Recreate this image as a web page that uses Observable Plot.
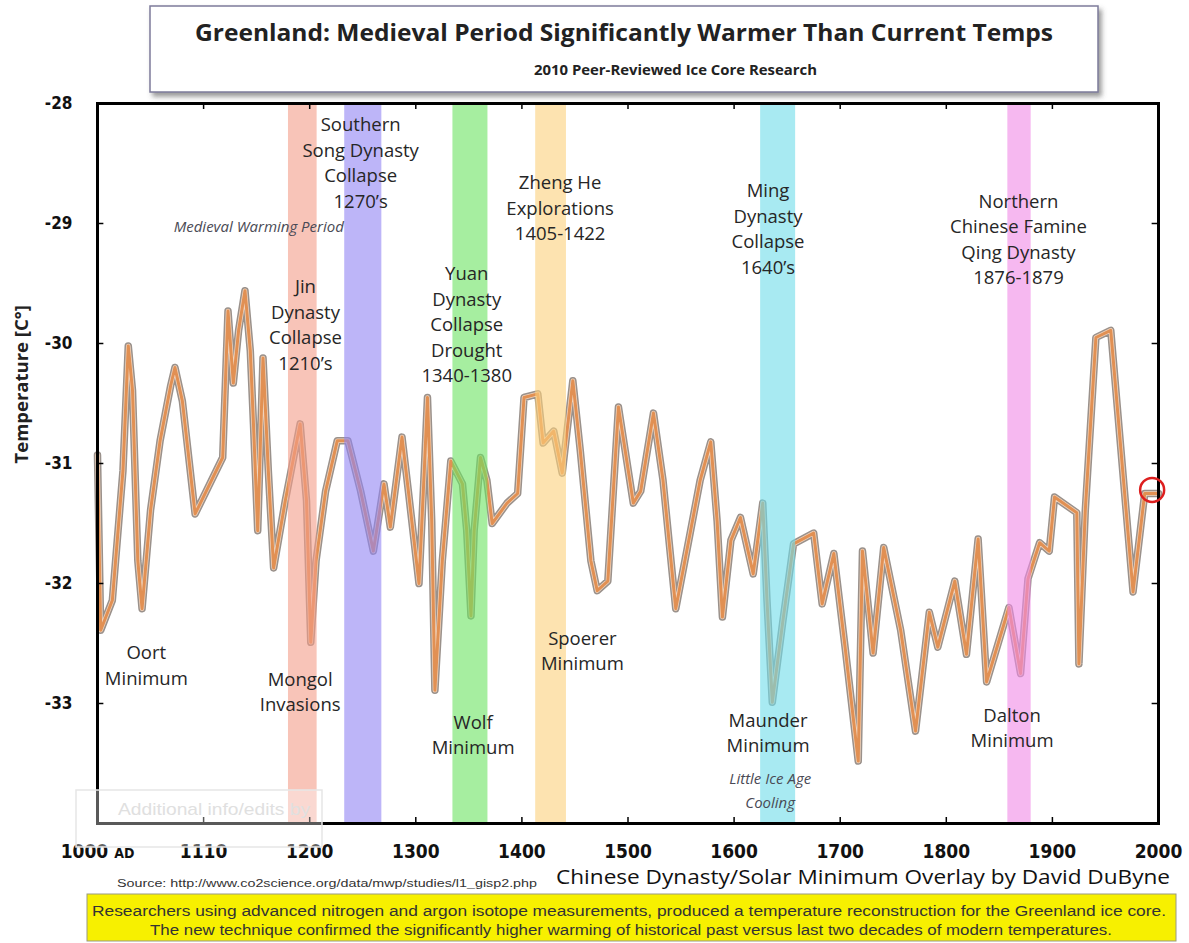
<!DOCTYPE html>
<html><head><meta charset="utf-8">
<script src="https://cdn.jsdelivr.net/npm/d3@7"></script>
<script src="https://cdn.jsdelivr.net/npm/@observablehq/plot@0.6"></script>
<style>
body{margin:0;background:#fff;}
#wrap{position:relative;width:1189px;height:943px;overflow:hidden;background:#fff;}
#wrap > svg{position:absolute;left:0;top:0;}
</style></head><body><div id="wrap"></div>
<script>
// ---- data ----
const years = [1000,1003,1014,1024,1029,1033,1038,1042,1050,1059,1069,1073,1080,1092,1118,1123,1128,1133,1139,1144,1147,1151,1156,1161,1166,1177,1191,1197,1201,1206,1215,1226,1236,1248,1260,1270,1276,1287,1293,1303,1308,1311,1315,1318,1325,1333,1344,1348,1352,1355,1361,1367,1372,1386,1396,1402,1415,1420,1430,1438,1448,1455,1465,1471,1481,1491,1505,1512,1524,1533,1545,1559,1568,1578,1584,1589,1597,1606,1618,1627,1631,1636,1646,1656,1675,1683,1694,1705,1717,1721,1731,1741,1757,1771,1784,1792,1808,1819,1830,1838,1859,1870,1877,1888,1897,1902,1923,1925,1931,1941,1955,1976,1987,2000];
const temps = [-30.93,-32.39,-32.14,-31.06,-30.02,-30.39,-31.81,-32.21,-31.39,-30.81,-30.35,-30.2,-30.48,-31.42,-30.95,-29.73,-30.33,-29.89,-29.56,-30.06,-30.67,-31.56,-30.12,-31.06,-31.87,-31.31,-30.67,-31.31,-32.49,-31.81,-31.23,-30.81,-30.81,-31.23,-31.73,-31.17,-31.53,-30.78,-31.23,-32.0,-31.06,-30.45,-31.48,-32.89,-31.81,-30.98,-31.17,-31.56,-32.27,-31.56,-30.95,-31.14,-31.5,-31.33,-31.25,-30.45,-30.42,-30.83,-30.73,-31.08,-30.31,-30.89,-31.81,-32.06,-31.98,-30.53,-31.33,-31.23,-30.58,-31.14,-32.21,-31.56,-31.14,-30.82,-31.48,-32.28,-31.64,-31.45,-31.92,-31.33,-32.14,-32.99,-32.31,-31.67,-31.58,-32.17,-31.75,-32.56,-33.48,-31.73,-32.58,-31.7,-32.39,-33.23,-32.24,-32.53,-31.98,-32.59,-31.63,-32.82,-32.2,-32.75,-31.96,-31.66,-31.73,-31.28,-31.41,-32.67,-31.39,-29.95,-29.89,-32.07,-31.25,-31.25];

const bandStart = [1180,1233,1335,1413,1625,1858];
const bandEnd   = [1207,1268,1368,1442,1658,1880];
const bandColors = ["#f39d89","#9184f3","#6be361","#fcd07b","#6edce9","#f089e6"];

const labelTexts = ["Southern\nSong Dynasty\nCollapse\n1270’s","Jin\nDynasty\nCollapse\n1210’s","Yuan\nDynasty\nCollapse\nDrought\n1340-1380","Zheng He\nExplorations\n1405-1422","Ming\nDynasty\nCollapse\n1640’s","Northern\nChinese Famine\nQing Dynasty\n1876-1879","Oort\nMinimum","Mongol\nInvasions","Spoerer\nMinimum","Wolf\nMinimum","Maunder\nMinimum","Dalton\nMinimum"];
const labelYears = [1248,1196,1348,1436,1632,1868,1046,1191,1457,1354,1632,1862];
const labelTemps = [-28.48,-29.83,-29.83,-28.86,-29.03,-29.12,-32.67,-32.89,-32.55,-33.25,-33.23,-33.19];

const italicTexts = ["Medieval Warming Period","Little Ice Age\nCooling"];
const italicYears = [1152,1634];
const italicTemps = [-29.01,-33.71];

const xTicks = [1000,1100,1200,1300,1400,1500,1600,1700,1800,1900,2000];
const xTickLabels = ["1000 AD","1110","1200","1300","1400","1500","1600","1700","1800","1900","2000"];
const yTicks = [-28,-29,-30,-31,-32,-33];

const markerYear = [1994];
const markerTemp = [-31.22];

// ---- build tables ----
const series = years.map((y,i)=>({year:y,temp:temps[i]}));
const bands = bandStart.map((s,i)=>({x1:s,x2:bandEnd[i],color:bandColors[i]}));
const labels = labelTexts.map((t,i)=>({text:t,year:labelYears[i],temp:labelTemps[i]}));
const italics = italicTexts.map((t,i)=>({text:t,year:italicYears[i],temp:italicTemps[i]}));
const marker = markerYear.map((y,i)=>({year:y,temp:markerTemp[i]}));

const axisFont = "'Liberation Sans Narrow','DejaVu Sans Condensed','Liberation Sans',sans-serif";
const annFont = "'Open Sans','Noto Sans',sans-serif";

const chart = Plot.plot({
  width:1189, height:943,
  marginLeft:97, marginRight:31, marginTop:103, marginBottom:120,
  x:{domain:[1000,2000]},
  y:{domain:[-34,-28]},
  color:{type:"identity"},
  style:{background:"transparent", overflow:"visible"},
  marks:[
    Plot.line(series,{x:"year",y:"temp",stroke:"#9a918b",strokeWidth:7.5}),
    Plot.line(series,{x:"year",y:"temp",stroke:"#f1d3bb",strokeWidth:4.5}),
    Plot.line(series,{x:"year",y:"temp",stroke:"#de8441",strokeWidth:3,strokeOpacity:0.85}),
    Plot.rect(bands,{x1:"x1",x2:"x2",fill:"color",fillOpacity:0.6}),
    Plot.ruleY(yTicks,{x1:1000,x2:1006,stroke:"#000",strokeWidth:1.5}),
    Plot.ruleY(yTicks,{x1:1994,x2:2000,stroke:"#000",strokeWidth:1.5}),
    Plot.ruleX(xTicks,{y1:-34,y2:-33.95,stroke:"#000",strokeWidth:1.5}),
    Plot.ruleX(xTicks,{y1:-28.05,y2:-28,stroke:"#000",strokeWidth:1.5}),
    Plot.frame({stroke:"#000",strokeWidth:3}),
    Plot.axisX({ticks:xTicks, tickSize:0, tickPadding:21, label:null,
      tickFormat:d=>xTickLabels[xTicks.indexOf(d)],
      fontSize:19, fontWeight:"bold", fontFamily:axisFont, fill:"#111"}),
    Plot.axisY({ticks:yTicks, tickSize:0, tickPadding:25, label:null,
      tickFormat:d=>String(d).replace("−","-"),
      fontSize:17, fontWeight:"bold", fontFamily:axisFont, fill:"#111"}),
    Plot.text(["Temperature [C°]"],{frameAnchor:"left", rotate:-90, dx:-75,
      fontSize:18.5, fontWeight:"bold", fontFamily:"'Open Sans',sans-serif", fill:"#222"}),
    Plot.text(labels,{x:"year",y:"temp",text:"text",fontSize:18.5,lineHeight:1.38,
      fontFamily:annFont, fill:"#262626", lineAnchor:"middle"}),
    Plot.text(italics,{x:"year",y:"temp",text:"text",fontSize:15,lineHeight:1.6,
      fontStyle:"italic", fontFamily:annFont, fill:"#4a4a55", lineAnchor:"middle"}),
    Plot.dot(marker,{x:"year",y:"temp",r:12,stroke:"#dd1f1f",strokeWidth:2.5,fill:"none"})
  ]
});
document.getElementById("wrap").appendChild(chart);

// smaller "AD" next to 1000
d3.select(chart).selectAll("text").each(function(){
  const t = d3.select(this);
  if (t.text()==="1000 AD") {
    t.text("1000 ");
    t.append("tspan").attr("font-size",14).text("AD");
  }
});

// ---- overlay: title box, credits, caption ----
const ov = `
<svg width="1189" height="943" xmlns="http://www.w3.org/2000/svg" style="pointer-events:none">
 <defs><filter id="sh" x="-5%" y="-20%" width="110%" height="150%">
   <feDropShadow dx="3" dy="4" stdDeviation="2.5" flood-color="#555" flood-opacity="0.6"/></filter></defs>
 <rect x="150" y="6" width="948" height="86" fill="#fff" stroke="#7d7b9a" stroke-width="1.5" filter="url(#sh)"/>
 <text x="195" y="41" textLength="858" lengthAdjust="spacingAndGlyphs" font-family="'Open Sans',sans-serif" font-weight="bold" font-size="23" fill="#222">Greenland: Medieval Period Significantly Warmer Than Current Temps</text>
 <text x="534" y="75" textLength="283" lengthAdjust="spacingAndGlyphs" font-family="'Open Sans',sans-serif" font-weight="bold" font-size="15" fill="#222">2010 Peer-Reviewed Ice Core Research</text>
 <rect x="76" y="790" width="246" height="57" fill="#fff" fill-opacity="0.35" stroke="#e6e6e6" stroke-width="1.5"/>
 <text x="118" y="815" textLength="192" lengthAdjust="spacingAndGlyphs" font-family="'Liberation Sans Narrow',sans-serif" font-size="17" fill="#e0e0e0">Additional info/edits by</text>
 <text x="117" y="887" textLength="420" lengthAdjust="spacingAndGlyphs" font-family="'Liberation Sans Narrow',sans-serif" font-size="10" fill="#333">Source: http://www.co2science.org/data/mwp/studies/l1_gisp2.php</text>
 <text x="556" y="884" textLength="614" lengthAdjust="spacingAndGlyphs" font-family="'Open Sans',sans-serif" font-size="20" fill="#111">Chinese Dynasty/Solar Minimum Overlay by David DuByne</text>
 <rect x="87" y="894" width="1089" height="47" fill="#f7f000" stroke="#9a9a80" stroke-width="1"/>
 <text x="92" y="916" textLength="1074" lengthAdjust="spacingAndGlyphs" font-family="'Liberation Sans Narrow',sans-serif" font-size="14" fill="#333">Researchers using advanced nitrogen and argon isotope measurements, produced a temperature reconstruction for the Greenland ice core.</text>
 <text x="150" y="935" textLength="962" lengthAdjust="spacingAndGlyphs" font-family="'Liberation Sans Narrow',sans-serif" font-size="14" fill="#333">The new technique confirmed the significantly higher warming of historical past versus last two decades of modern temperatures.</text>
</svg>`;
document.getElementById("wrap").insertAdjacentHTML("beforeend", ov);
</script></body></html>
